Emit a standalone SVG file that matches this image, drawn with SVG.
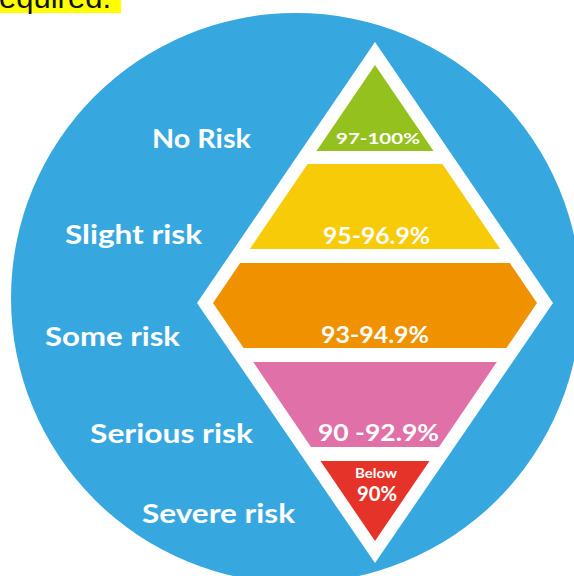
<svg xmlns="http://www.w3.org/2000/svg" width="574" height="576" viewBox="0 0 574 576">
  <style>
    .lbl { font-family: Lato, "Open Sans", "Liberation Sans", sans-serif; font-weight: 700; fill: #ffffff; font-size: 26px; }
    .pct { font-family: Lato, "Open Sans", "Liberation Sans", sans-serif; font-weight: 700; fill: #ffffff; text-anchor: middle; }
    .note { font-family: "Liberation Sans", Arial, sans-serif; fill: #111111; font-size: 30px; }
  </style>
  <rect x="0" y="0" width="574" height="576" fill="#ffffff"/>
  <g id="header">
    <rect x="0" y="0" width="121" height="13" fill="#ffff00"/>
    <text class="note" x="-1" y="8" textLength="112" lengthAdjust="spacingAndGlyphs">equired.</text>
  </g>
  <g id="background">
    <circle cx="296" cy="298" r="285" fill="#37a8df"/>
    <polygon points="375,42 553,303 375,563 197,303" fill="#ffffff"/>
  </g>
  <g id="no-risk">
    <polygon points="375,65 433.5,151 316.5,151" fill="#95c11f"/>
    <text class="pct" x="378" y="144" font-size="16" textLength="84" lengthAdjust="spacingAndGlyphs">97-100%</text>
    <text class="lbl" x="152" y="148" textLength="99" lengthAdjust="spacingAndGlyphs">No Risk</text>
  </g>
  <g id="slight-risk">
    <polygon points="307.6,164 442.4,164 500.2,249 249.8,249" fill="#f7cb08"/>
    <text class="pct" x="376.5" y="244" font-size="23" textLength="107" lengthAdjust="spacingAndGlyphs">95-96.9%</text>
    <text class="lbl" x="65" y="244" textLength="137" lengthAdjust="spacingAndGlyphs">Slight risk</text>
  </g>
  <g id="some-risk">
    <polygon points="240.2,263 509.8,263 537,303 506.4,348 243.6,348 213,303" fill="#f09100"/>
    <text class="pct" x="375" y="343" font-size="22" textLength="108" lengthAdjust="spacingAndGlyphs">93-94.9%</text>
    <text class="lbl" x="45" y="346" textLength="135" lengthAdjust="spacingAndGlyphs">Some risk</text>
  </g>
  <g id="serious-risk">
    <polygon points="253.2,362 496.8,362 439,447 311,447" fill="#e070a8"/>
    <text class="pct" x="378.5" y="441" font-size="23" textLength="121" lengthAdjust="spacingAndGlyphs">90 -92.9%</text>
    <text class="lbl" x="90" y="443" textLength="163" lengthAdjust="spacingAndGlyphs">Serious risk</text>
  </g>
  <g id="severe-risk">
    <polygon points="320.5,461 429.5,461 375,541" fill="#e53329"/>
    <text class="pct" x="376" y="478" font-size="14" textLength="42" lengthAdjust="spacingAndGlyphs">Below</text>
    <text class="pct" x="377" y="501" font-size="20" textLength="40" lengthAdjust="spacingAndGlyphs">90%</text>
    <text class="lbl" x="142" y="523" textLength="153" lengthAdjust="spacingAndGlyphs">Severe risk</text>
  </g>
</svg>
